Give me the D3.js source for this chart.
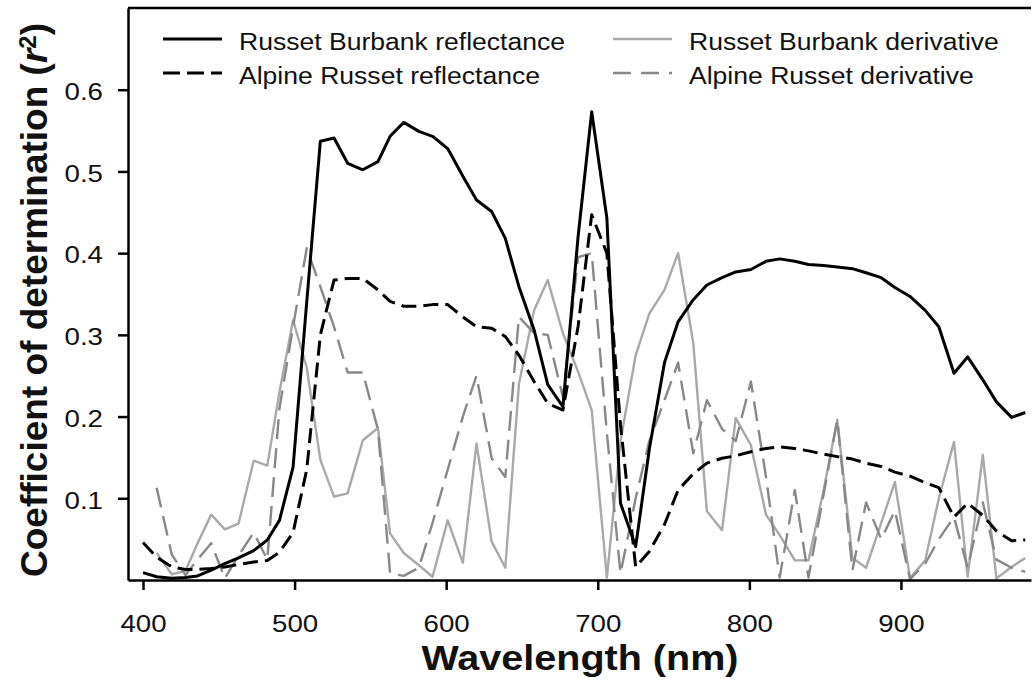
<!DOCTYPE html>
<html>
<head>
<meta charset="utf-8">
<script src="https://cdn.jsdelivr.net/npm/d3@7"></script>
<style>
  body { margin: 0; background: #ffffff; }
  text { font-family: Arial, "Liberation Sans", sans-serif; fill: #111; }
</style>
</head>
<body>
<svg id="chart" width="1032" height="683"></svg>
<script>
// band centres (nm)
const wavelengths = [400, 409, 419, 428, 436, 445, 454, 463, 473, 482,
  490, 499, 508, 517, 526, 535, 545, 555, 563, 572,
  582, 591, 601, 611, 620, 630, 639, 648, 658, 667,
  677, 687, 696, 706, 715, 725, 734, 744, 753, 763,
  772, 782, 791, 801, 811, 820, 830, 839, 849, 858,
  868, 877, 887, 896, 906, 916, 925, 935, 944, 954,
  963, 973, 982];

const rbReflectance = [0.009, 0.004, 0.002, 0.003, 0.005, 0.012, 0.020, 0.027, 0.036, 0.049,
  0.073, 0.138, 0.340, 0.537, 0.541, 0.510, 0.502, 0.512, 0.543, 0.560,
  0.549, 0.543, 0.528, 0.494, 0.465, 0.451, 0.418, 0.359, 0.306, 0.239,
  0.212, 0.420, 0.573, 0.443, 0.094, 0.041, 0.160, 0.266, 0.316, 0.343,
  0.361, 0.370, 0.377, 0.380, 0.390, 0.393, 0.390, 0.386, 0.385, 0.383,
  0.381, 0.376, 0.370, 0.358, 0.347, 0.330, 0.310, 0.253, 0.273, 0.245,
  0.218, 0.199, 0.205];

const arReflectance = [0.046, 0.028, 0.016, 0.013, 0.013, 0.014, 0.016, 0.019, 0.022, 0.024,
  0.034, 0.058, 0.135, 0.300, 0.367, 0.369, 0.369, 0.355, 0.341, 0.335,
  0.335, 0.337, 0.337, 0.322, 0.310, 0.308, 0.298, 0.275, 0.243, 0.216,
  0.208, 0.310, 0.447, 0.400, 0.190, 0.016, 0.035, 0.068, 0.110, 0.130,
  0.143, 0.149, 0.152, 0.157, 0.161, 0.163, 0.161, 0.158, 0.154, 0.151,
  0.148, 0.143, 0.139, 0.132, 0.127, 0.119, 0.113, 0.077, 0.094, 0.079,
  0.060, 0.048, 0.049];

const rbDerivative = [null, 0.033, 0.007, 0.011, 0.045, 0.080, 0.062, 0.069, 0.146, 0.140,
  0.230, 0.318, 0.260, 0.147, 0.102, 0.106, 0.171, 0.186, 0.057, 0.033,
  0.018, 0.004, 0.073, 0.021, 0.167, 0.047, 0.015, 0.240, 0.330, 0.367,
  0.302, 0.255, 0.208, 0.003, 0.170, 0.275, 0.326, 0.355, 0.400, 0.290,
  0.084, 0.061, 0.198, 0.165, 0.080, 0.055, 0.024, 0.024, 0.110, 0.196,
  0.027, 0.015, 0.070, 0.120, 0.002, 0.024, 0.100, 0.169, 0.004, 0.153,
  0.002, 0.016, 0.027];

const arDerivative = [null, 0.113, 0.031, 0.006, 0.025, 0.045, 0.002, 0.030, 0.058, 0.025,
  0.210, 0.310, 0.406, 0.359, 0.310, 0.254, 0.254, 0.184, 0.008, 0.005,
  0.015, 0.070, 0.135, 0.200, 0.250, 0.149, 0.126, 0.322, 0.302, 0.300,
  0.224, 0.395, 0.400, 0.180, 0.008, 0.100, 0.170, 0.220, 0.266, 0.155,
  0.220, 0.185, 0.170, 0.243, 0.126, 0.003, 0.110, 0.003, 0.105, 0.196,
  0.012, 0.095, 0.050, 0.085, 0.001, 0.020, 0.050, 0.077, 0.015, 0.095,
  0.025, 0.015, 0.010];

const xTicks = [400, 500, 600, 700, 800, 900];
const yTicks = [0.1, 0.2, 0.3, 0.4, 0.5, 0.6];

const seriesNames = ["Russet Burbank reflectance", "Alpine Russet reflectance",
  "Russet Burbank derivative", "Alpine Russet derivative"];

// the source picture is a little wider than tall, so horizontal text gets stretched
const stretch = 1.13;

const svg = d3.select("#chart");
const margin = { top: 8, right: 1, bottom: 103, left: 128 };
const width = 1032 - margin.left - margin.right;
const height = 683 - margin.top - margin.bottom;

const g = svg.append("g")
  .attr("transform", "translate(" + margin.left + "," + margin.top + ")");

const x = d3.scaleLinear().domain([390.1, 985.8]).range([0, width]);
const y = d3.scaleLinear().domain([0, 0.7]).range([height, 0]);

// series styles
const series = [
  { name: seriesNames[2], values: rbDerivative, color: "#a9a9a9", width: 2.4, dash: null },
  { name: seriesNames[3], values: arDerivative, color: "#888888", width: 2.4, dash: "20,9" },
  { name: seriesNames[1], values: arReflectance, color: "#000000", width: 3, dash: "15,7" },
  { name: seriesNames[0], values: rbReflectance, color: "#000000", width: 3, dash: null }
];

const line = d3.line()
  .defined(d => d[1] !== null)
  .x(d => x(d[0]))
  .y(d => y(d[1]));

series.forEach(s => {
  g.append("path")
    .datum(wavelengths.map((w, i) => [w, s.values[i]]))
    .attr("fill", "none")
    .attr("stroke", s.color)
    .attr("stroke-width", s.width)
    .attr("stroke-linejoin", "round")
    .attr("stroke-dasharray", s.dash)
    .attr("d", line);
});

// top frame line
g.append("line")
  .attr("x1", 0).attr("x2", width)
  .attr("y1", 0).attr("y2", 0)
  .attr("stroke", "#000").attr("stroke-width", 2.5);

// x axis
const xAxis = g.append("g")
  .attr("transform", "translate(0," + height + ")")
  .call(d3.axisBottom(x).tickValues(xTicks).tickSize(10).tickSizeOuter(0));
xAxis.selectAll("text")
  .attr("y", null).attr("dy", null)
  .attr("transform", "translate(0,52) scale(" + stretch + ",1)")
  .style("font-size", "24.5px").style("fill", "#111");

// y axis
const yAxis = g.append("g")
  .call(d3.axisLeft(y).tickValues(yTicks).tickSize(10).tickSizeOuter(0).tickFormat(d3.format(".1f")));
yAxis.selectAll("text")
  .attr("x", null).attr("dy", "0.4em")
  .attr("transform", "translate(-25,0) scale(" + stretch + ",1)")
  .style("font-size", "24.5px").style("fill", "#111");

svg.selectAll(".domain, .tick line")
  .attr("stroke", "#000")
  .attr("stroke-width", 2.5);

// axis titles
svg.append("text")
  .attr("transform", "translate(580,670) scale(" + stretch + ",1)")
  .attr("text-anchor", "middle")
  .style("font-size", "35px")
  .style("font-weight", "bold")
  .text("Wavelength (nm)");

const yLabel = svg.append("text")
  .attr("transform", "translate(47,300) rotate(-90)")
  .attr("text-anchor", "middle")
  .style("font-size", "37px")
  .style("font-weight", "bold");
yLabel.append("tspan").text("Coefficient of determination (");
yLabel.append("tspan").style("font-style", "italic").text("r");
yLabel.append("tspan").attr("dy", "-0.45em").style("font-size", "24px").text("2");
yLabel.append("tspan").attr("dy", "0.28em").text(")");

// legend
const legendItems = [
  { name: seriesNames[0], color: "#000000", width: 3, dash: null, lx: 163, ly: 39 },
  { name: seriesNames[1], color: "#000000", width: 3, dash: "17,7", lx: 163, ly: 73 },
  { name: seriesNames[2], color: "#a9a9a9", width: 2.4, dash: null, lx: 613, ly: 39 },
  { name: seriesNames[3], color: "#888888", width: 2.4, dash: "18,10", lx: 613, ly: 73 }
];

const legend = svg.append("g").attr("class", "legend");
legendItems.forEach(d => {
  legend.append("line")
    .attr("x1", d.lx).attr("x2", d.lx + 59)
    .attr("y1", d.ly).attr("y2", d.ly)
    .attr("stroke", d.color)
    .attr("stroke-width", d.width)
    .attr("stroke-dasharray", d.dash);
  legend.append("text")
    .attr("transform", "translate(" + (d.lx + 76) + "," + (d.ly + 11) + ") scale(" + stretch + ",1)")
    .style("font-size", "23.5px")
    .text(d.name);
});
</script>
</body>
</html>
